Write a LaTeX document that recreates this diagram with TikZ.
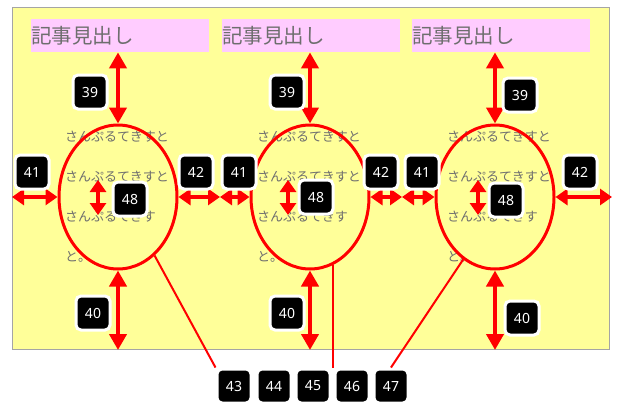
\documentclass[tikz,border=0pt]{standalone}
\usepackage{fontspec}
\setmainfont{Noto Sans}
\newfontfamily\jpfont{Noto Sans CJK JP}
\usetikzlibrary{arrows.meta,positioning,calc,shapes.geometric}
\definecolor{page}{RGB}{255,255,153}
\definecolor{pagerule}{RGB}{165,165,165}
\definecolor{headfill}{RGB}{255,204,255}
\definecolor{ink}{RGB}{110,110,110}
\definecolor{redline}{RGB}{255,0,0}
\tikzset{
  sheet/.style={draw=pagerule, fill=page, line width=1pt, minimum width=597pt, minimum height=342pt, anchor=north west},
  heading/.style={fill=headfill, text=ink, anchor=north west, minimum width=178pt, minimum height=33pt,
    inner sep=0pt, text width=178pt, align=left, font=\jpfont\fontsize{20.5}{20.5}\selectfont},
  body/.style={text=ink, anchor=north west, inner sep=0pt, align=left, font=\jpfont\fontsize{13}{40}\selectfont},
  ring/.style={draw=redline, line width=3pt, ellipse, minimum width=118pt, minimum height=144pt, inner sep=0pt},
  dim/.style={draw=redline, line width=4.5pt, {Triangle[length=16pt,width=17pt]}-{Triangle[length=16pt,width=17pt]}},
  hdim/.style={draw=redline, line width=4.5pt, {Triangle[length=12pt,width=16pt]}-{Triangle[length=12pt,width=16pt]}},
  smalldim/.style={draw=redline, line width=4.5pt, {Triangle[length=12pt,width=16pt]}-{Triangle[length=12pt,width=16pt]}},
  lead/.style={draw=redline, line width=2pt},
  tag/.style={fill=black, draw=white, line width=3pt, rounded corners=5pt, text=white, minimum size=34pt,
    inner sep=0pt, font=\fontsize{14}{14}\selectfont}
}
\begin{document}
\begin{tikzpicture}[x=1pt, y=-1pt]
  \useasboundingbox (0,0) rectangle (621,405);
  \node[sheet] (sheet) at (12,7) {};
  % 見出し
  \node[heading] (head1) at (31,19) {記事見出し};
  \node[heading] (head2) at (222,19) {記事見出し};
  \node[heading] (head3) at (412,19) {記事見出し};
  % 本文
  \node[body] (text1) at (65,131) {さんぷるてきすと\\さんぷるてきすと\\さんぷるてきす\\と。};
  \node[body] (text2) at (257,131) {さんぷるてきすと\\さんぷるてきすと\\さんぷるてきす\\と。};
  \node[body] (text3) at (447,131) {さんぷるてきすと\\さんぷるてきすと\\さんぷるてきす\\と。};
  % 番号（下）
  \node[tag] (n43) at (234,386) {43};
  \node[tag] (n44) at (274,386) {44};
  \node[tag] (n45) at (313,386) {45};
  \node[tag] (n46) at (352,386) {46};
  \node[tag] (n47) at (391,386) {47};
  \coordinate (split) at ($(n45.north east)!0.5!(n46.north west)$);
  % 円
  \node[ring] (ring1) at (118,197) {};
  \node[ring] (ring2) at (310,197) {};
  \node[ring] (ring3) at (495,197) {};
  \draw[lead] (ring1.-58) -- (n43.north west);
  \draw[lead] (ring2.-71) -- (ring2.-71 |- split);
  \draw[lead] (ring3.-117) -- (n47.north);
  % 余白の矢印
  \coordinate (gapA) at (220,197);
  \coordinate (gapB) at (402,197);
  \coordinate (rightend) at (612,197);
  \draw[dim] (ring1.north |- head1.south) -- (ring1.north);
  \draw[dim] (ring2.north |- head2.south) -- (ring2.north);
  \draw[dim] (ring3.north |- head3.south) -- (ring3.north);
  \draw[dim] (ring1.south) -- (ring1.south |- sheet.south);
  \draw[dim] (ring2.south) -- (ring2.south |- sheet.south);
  \draw[dim] (ring3.south) -- (ring3.south |- sheet.south);
  \draw[hdim] (sheet.west |- ring1.center) -- (ring1.west);
  \draw[hdim] (ring1.east) -- (gapA);
  \draw[hdim] (gapA) -- (ring2.west);
  \draw[hdim] (ring2.east) -- (gapB);
  \draw[hdim] (gapB) -- (ring3.west);
  \draw[hdim] (ring3.east) -- (rightend);
  \draw[smalldim] ($(ring1.center)+(-20,-17)$) -- ($(ring1.center)+(-20,18)$);
  \draw[smalldim] ($(ring2.center)+(-22,-17)$) -- ($(ring2.center)+(-22,18)$);
  \draw[smalldim] ($(ring3.center)+(-17,-17)$) -- ($(ring3.center)+(-17,18)$);
  % 番号
  \node[tag] (n39a) at (90,92) {39};
  \node[tag] (n39b) at (287,92) {39};
  \node[tag] (n39c) at (520,95) {39};
  \node[tag] (n40a) at (93,313) {40};
  \node[tag] (n40b) at (287,313) {40};
  \node[tag] (n40c) at (522,318) {40};
  \node[tag] (n41a) at (32,172) {41};
  \node[tag] (n41b) at (239,172) {41};
  \node[tag] (n41c) at (422,172) {41};
  \node[tag] (n42a) at (196,172) {42};
  \node[tag] (n42b) at (381,172) {42};
  \node[tag] (n42c) at (580,172) {42};
  \node[tag] (n48a) at (130,199) {48};
  \node[tag] (n48b) at (316,197) {48};
  \node[tag] (n48c) at (506,200) {48};
\end{tikzpicture}
\end{document}
